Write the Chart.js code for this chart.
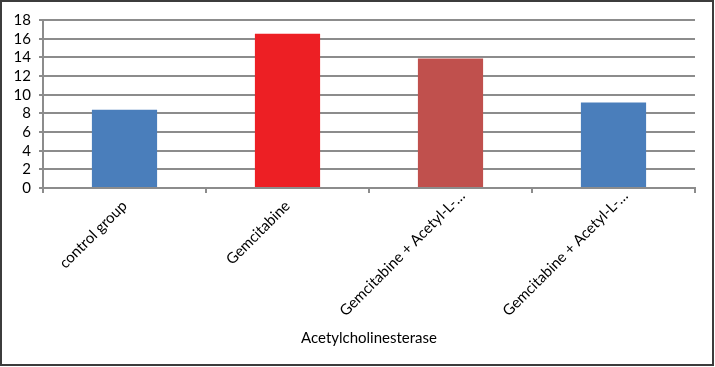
<!DOCTYPE html>
<html>
<head>
<meta charset="utf-8">
<script src="https://cdn.jsdelivr.net/npm/chart.js@4/dist/chart.umd.min.js"></script>
<style>
  html, body { margin: 0; padding: 0; background: #fff; }
  #wrap { position: relative; width: 715px; height: 367px; }
  #c { position: absolute; left: 0; top: 0; }
  #frame { position: absolute; left: 0; top: 0; width: 714px; height: 366px; box-sizing: border-box; border: 2px solid #3c3c3c; pointer-events: none; }
</style>
</head>
<body>
<div id="wrap">
  <canvas id="c" width="715" height="367"></canvas>
  <div id="frame"></div>
</div>
<script>
const categories = ["control group", "Gemcitabine", "Gemcitabine + Acetyl-L-\u2026", "Gemcitabine + Acetyl-L-\u2026"];
const values = [8.38, 16.54, 13.88, 9.15];
const yTicks = [0, 2, 4, 6, 8, 10, 12, 14, 16, 18];
const axisTitle = "Acetylcholinesterase";

const barColors = ["#4a7ebb", "#ed1f24", "#c0504d", "#4a7ebb"];
const FONT = "Lato, 'Open Sans', sans-serif";

// Excel places truncated category labels a little further along their diagonal
const truncatedLabelShift = {
  id: 'truncatedLabelShift',
  beforeDraw(chart) {
    const sx = chart.scales.x;
    const items = sx.getLabelItems(chart.chartArea);
    items.forEach((it, i) => {
      const lbl = String(categories[i] || '');
      if (lbl.endsWith('\u2026') && !it._shifted) {
        it.options.translation = [it.options.translation[0] + 12, it.options.translation[1] - 10];
        it._shifted = true;
      }
    });
  }
};

new Chart(document.getElementById('c'), {
  type: 'bar',
  data: {
    labels: categories,
    datasets: [{
      data: values,
      backgroundColor: barColors,
      borderWidth: 0,
      categoryPercentage: 1.0,
      barPercentage: 0.4
    }]
  },
  plugins: [truncatedLabelShift],
  options: {
    responsive: false,
    animation: false,
    events: [],
    layout: { padding: { left: 0, right: 20, top: 20, bottom: 0 } },
    plugins: { legend: { display: false }, tooltip: { enabled: false } },
    scales: {
      x: {
        offset: true,
        grid: { display: true, drawOnChartArea: false, drawTicks: true, tickLength: 5, offset: true, color: '#8c8c8c', lineWidth: 2 },
        border: { display: true, color: '#8c8c8c', width: 2 },
        ticks: { color: '#000', font: { family: FONT, size: 15 }, minRotation: 45, maxRotation: 45, autoSkip: false, padding: 4 },
        title: { display: true, text: axisTitle, color: '#000', font: { family: FONT, size: 15 }, padding: { top: 0, bottom: 20 } },
        afterFit: (s) => { s.height = 367 - 188; }
      },
      y: {
        min: 0, max: 18,
        afterBuildTicks: (s) => { s.ticks = yTicks.map(v => ({ value: v })); },
        grid: { color: '#8c8c8c', lineWidth: 2, drawTicks: true, tickLength: 4 },
        border: { display: true, color: '#8c8c8c', width: 2 },
        ticks: { color: '#000', font: { family: FONT, size: 15 }, padding: 8, autoSkip: false },
        afterFit: (s) => { s.width = 43; }
      }
    }
  }
});
</script>
</body>
</html>
